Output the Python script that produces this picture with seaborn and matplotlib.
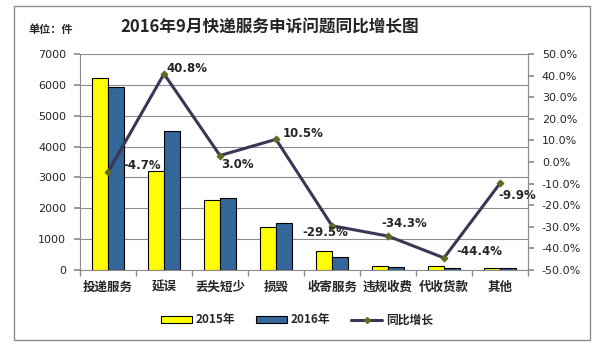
import numpy as np
import pandas as pd
import seaborn as sns
import matplotlib.pyplot as plt
from matplotlib.patches import Rectangle, Patch
from matplotlib.lines import Line2D
import matplotlib.ticker as mticker

categories = ["投递服务", "延误", "丢失短少", "损毁", "收寄服务", "违规收费", "代收货款", "其他"]
v2015 = [6230, 3210, 2270, 1390, 620, 130, 130, 70]
v2016 = [5940, 4520, 2338, 1536, 437, 85, 72, 63]
growth = [-4.7, 40.8, 3.0, 10.5, -29.5, -34.3, -44.4, -9.9]
growth_labels = ["-4.7%", "40.8%", "3.0%", "10.5%", "-29.5%", "-34.3%", "-44.4%", "-9.9%"]
years = ["2015年", "2016年"]

sns.set_theme(style="white")
plt.rcParams['font.family'] = ['Noto Sans CJK SC', 'DejaVu Sans']
plt.rcParams['axes.unicode_minus'] = False

df = pd.DataFrame({
    "cat": categories * 2,
    "val": v2015 + v2016,
    "year": [years[0]] * len(categories) + [years[1]] * len(categories),
})

fig = plt.figure(figsize=(6.08, 3.49), dpi=100)
ax = fig.add_axes([80/608, 1-270/349, 448/608, 216/349])

yellow = "#FFFF00"
blue = "#336699"
line_c = "#3C3556"
mk_c = "#5E6B24"
grid_c = "#8c8c8c"

sns.barplot(data=df, x="cat", y="val", hue="year", palette=[yellow, blue],
            saturation=1, width=0.57, gap=0, edgecolor="black", linewidth=0.8, ax=ax,
            legend=False, zorder=3)
ax.set_xlim(-0.5, len(categories) - 0.5)
ax.set_ylim(0, 7000)
ax.set_yticks(range(0, 7001, 1000))
ax.yaxis.grid(True, color=grid_c, linewidth=0.8, zorder=0)
ax.set_axisbelow(True)
ax.set_xlabel("")
ax.set_ylabel("")
ax.spines["top"].set_visible(False)
for s in ["left", "right", "bottom"]:
    ax.spines[s].set_color(grid_c)
    ax.spines[s].set_linewidth(0.8)
ax.set_xticks(range(len(categories)))
ax.set_xticklabels(categories, fontsize=9, fontweight="bold")
ax.set_xticks(np.arange(-0.5, len(categories), 1), minor=True)
ax.tick_params(axis="x", which="major", length=0, pad=8)
ax.tick_params(axis="x", which="minor", length=4, color=grid_c, direction="out", bottom=True)
ax.tick_params(axis="y", length=4, color=grid_c, direction="out", left=True, labelsize=8, pad=6)
for t in ax.get_yticklabels():
    t.set_family(["DejaVu Sans"])

ax2 = ax.twinx()
sns.lineplot(x=np.arange(len(categories)), y=growth, ax=ax2, color=line_c,
             linewidth=2.2, marker="D", markersize=3.5, markerfacecolor=mk_c,
             markeredgecolor=mk_c, zorder=5)
ax2.set_ylim(-50, 50)
ax2.set_yticks(range(-50, 51, 10))
ax2.yaxis.set_major_formatter(mticker.FuncFormatter(lambda v, p: f"{v:.1f}%"))
ax2.tick_params(axis="y", length=4, color=grid_c, direction="out", right=True, labelsize=8, pad=6)
for t in ax2.get_yticklabels():
    t.set_family(["DejaVu Sans"])
for s in ax2.spines.values():
    s.set_visible(False)
ax2.spines["right"].set_visible(True)
ax2.spines["right"].set_color(grid_c)
ax2.spines["right"].set_linewidth(0.8)
ax2.grid(False)

offsets = [(11, 5), (2, 3.6), (1, -6.5), (5, 4.3), (-21.6, -5), (-5, 9), (9, 4.3), (-1, -8.6)]
for i, (g, lab) in enumerate(zip(growth, growth_labels)):
    dx, dy = offsets[i]
    ax2.annotate(lab, (i, g), xytext=(dx, dy), textcoords="offset points",
                 fontsize=8.5, fontweight="bold", family=["DejaVu Sans"],
                 ha="left", va="center", zorder=6)

fig.text(270/608, 1-28/349, "2016年9月快递服务申诉问题同比增长图", ha="center", va="center",
         fontsize=12, fontweight="bold")
fig.text(28/608, 1-30/349, "单位：件", ha="left", va="center", fontsize=8, fontweight="bold")

handles = [Patch(facecolor=yellow, edgecolor="black", linewidth=0.8),
           Patch(facecolor=blue, edgecolor="black", linewidth=0.8),
           Line2D([0], [0], color=line_c, linewidth=2.2, marker="D", markersize=3,
                  markerfacecolor=mk_c, markeredgecolor=mk_c)]
leg = fig.legend(handles, ["2015年", "2016年", "同比增长"], loc="center",
                 bbox_to_anchor=(297/608, 1-320/349), ncol=3, frameon=False,
                 prop={"weight": "bold", "size": 8.5}, handlelength=2.6, handleheight=0.6,
                 columnspacing=1.8, handletextpad=0.3)

fig.patches.append(Rectangle((14/608, 1-340/349), 576/608, 334/349, transform=fig.transFigure,
                             fill=False, edgecolor=grid_c, linewidth=1))

fig.savefig("out.png", dpi=100)
